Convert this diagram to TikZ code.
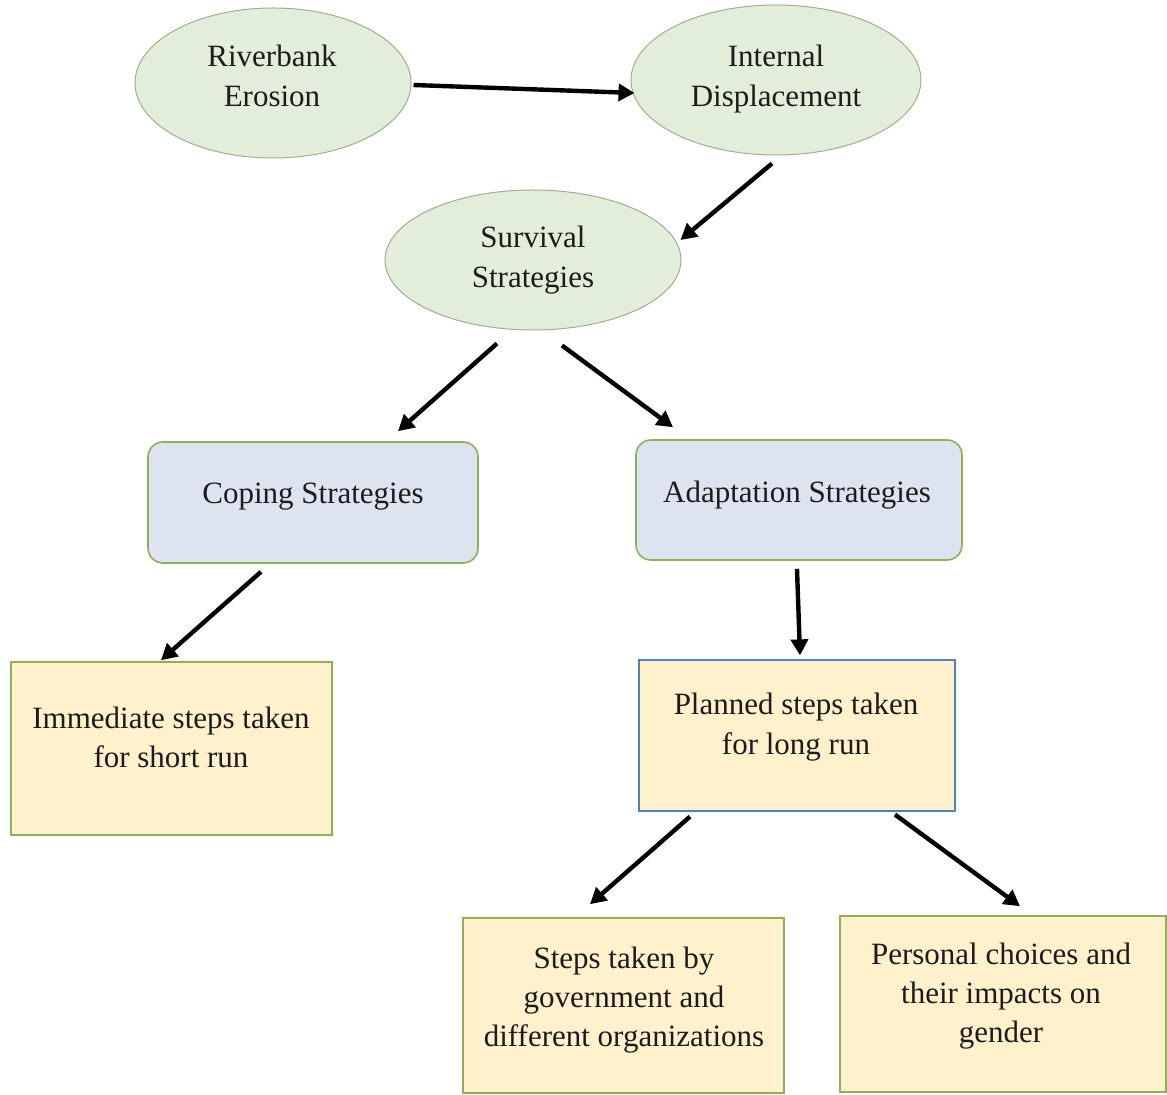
\documentclass[tikz,border=0pt]{standalone}
\usepackage{fontspec}
\setmainfont{Liberation Serif}
\usetikzlibrary{shapes.geometric,arrows.meta}

\definecolor{ellfill}{HTML}{E3EEDA}
\definecolor{elldraw}{HTML}{9DAF8E}
\definecolor{bluefill}{HTML}{DDE4F0}
\definecolor{yellowfill}{HTML}{FEF1CB}
\definecolor{greenline}{HTML}{8DB255}
\definecolor{blueline}{HTML}{4F81BD}
\definecolor{inkcol}{HTML}{1C1C1C}

\tikzset{
  bubble/.style={ellipse, draw=elldraw, line width=0.5pt, fill=ellfill, inner sep=0pt},
  strategy/.style={rectangle, rounded corners=7.5pt, draw=greenline, line width=0.8pt, fill=bluefill, inner sep=0pt},
  stepbox/.style={rectangle, draw=greenline, line width=0.8pt, fill=yellowfill, inner sep=0pt},
  label text/.style={text=inkcol, align=center, inner sep=0pt,
    font=\fontsize{15.5}{19.6}\selectfont},
  arr/.style={draw=black, line width=2.2pt, -{Triangle[length=8pt,width=8.5pt]}}
}

\begin{document}
\begin{tikzpicture}[x=0.5pt,y=-0.5pt]
\useasboundingbox (0,0) rectangle (1167,1095);

% causal chain
\node[bubble, minimum width=138pt, minimum height=75pt] (river) at (273,83) {};
\node[label text] (rivert) at (272,76) {Riverbank\\Erosion};
\node[bubble, minimum width=145pt, minimum height=75pt] (displ) at (776,80) {};
\node[label text] (displt) at (776,79) {Internal\\Displacement};
\node[bubble, minimum width=148pt, minimum height=70pt] (surv) at (533,260) {};
\node[label text] (survt) at (533,260) {Survival\\Strategies};

% strategy boxes
\node[strategy, minimum width=165pt, minimum height=60.5pt] (coping) at (313,502.5) {};
\node[label text] (copingt) at (313,497) {Coping Strategies};
\node[strategy, minimum width=163pt, minimum height=60pt] (adapt) at (799,500) {};
\node[label text] (adaptt) at (797,495) {Adaptation Strategies};

% steps
\node[stepbox, minimum width=160.5pt, minimum height=86.5pt] (imm) at (171.5,748.5) {};
\node[label text] (immt) at (171,737) {Immediate steps taken\\for short run};
\node[stepbox, draw=blueline, line width=0.6pt, minimum width=158pt, minimum height=75.5pt] (plan) at (797,735.5) {};
\node[label text] (plant) at (796,727) {Planned steps taken\\for long run};
\node[stepbox, minimum width=160.5pt, minimum height=87.5pt] (gov) at (623.5,1005.5) {};
\node[label text] (govt) at (624,1000) {Steps taken by\\government and\\different organizations};
\node[stepbox, minimum width=163pt, minimum height=88pt] (pers) at (1003,1004) {};
\node[label text] (perst) at (1001,996) {Personal choices and\\their impacts on\\gender};

% connectors
\draw[arr] ([xshift=1pt,yshift=-1pt]river.east) -- ([xshift=2pt,yshift=-6.5pt]displ.west);
\draw[arr] ([xshift=-2pt,yshift=-4pt]displ.south) -- ([xshift=-0.5pt,yshift=10pt]surv.east);
\draw[arr] ([xshift=-18pt,yshift=-6.5pt]surv.south) -- ([xshift=42.5pt,yshift=5pt]coping.north);
\draw[arr] ([xshift=14.5pt,yshift=-7.5pt]surv.south) -- ([xshift=-63pt,yshift=6pt]adapt.north);
\draw[arr] ([xshift=-26pt,yshift=-4pt]coping.south) -- ([xshift=-5.25pt,yshift=0.5pt]imm.north);
\draw[arr] ([xshift=-1pt,yshift=-4pt]adapt.south) -- ([xshift=1.5pt,yshift=2pt]plan.north);
\draw[arr] ([xshift=-53.5pt,yshift=-2.5pt]plan.south) -- ([xshift=-16.75pt,yshift=6.5pt]gov.north);
\draw[arr] ([xshift=49pt,yshift=-1.5pt]plan.south) -- ([xshift=8.5pt,yshift=4.5pt]pers.north);
\end{tikzpicture}
\end{document}
